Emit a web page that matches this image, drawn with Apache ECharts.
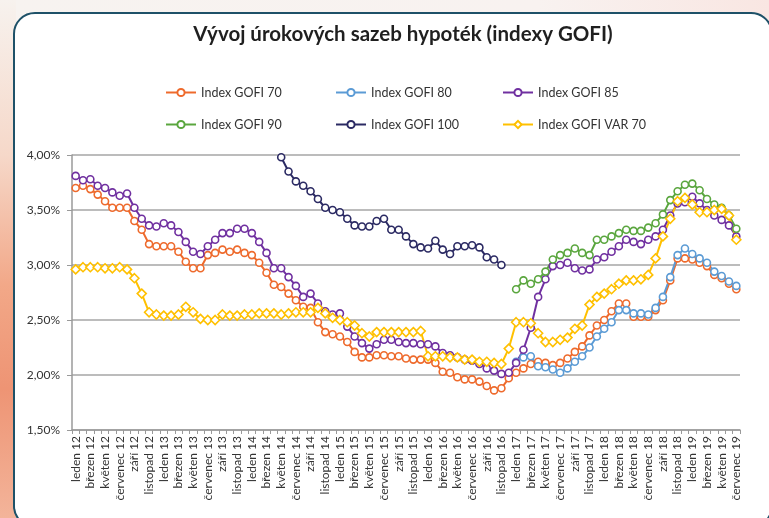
<!DOCTYPE html>
<html>
<head>
<meta charset="utf-8">
<title>Vývoj úrokových sazeb hypoték</title>
<script src="https://cdn.jsdelivr.net/npm/echarts@6/dist/echarts.min.js"></script>
<style>
  html, body { margin: 0; padding: 0; }
  body {
    width: 769px; height: 518px; overflow: hidden; position: relative;
    background: linear-gradient(90deg, #f7f3f0 0%, #f8f2f0 70%, #f9e6e2 100%);
  }
  .leftStrip {
    position: absolute; left: 0; top: 0; width: 16px; height: 518px;
    background: linear-gradient(180deg, #f7f2ee 0%, #f6d8c9 30%, #f2a888 55%, #ee9474 75%, #f3b49a 100%);
  }
  .frame {
    position: absolute; left: 13px; top: 12px; width: 756px; height: 512px;
    border: 2px solid #1e5168; border-radius: 22px; background: #fff;
  }
  #container { position: absolute; left: 0; top: 0; width: 769px; height: 518px; }
</style>
</head>
<body>
<div class="leftStrip"></div>
<div class="frame"></div>
<div id="container"></div>
<script>
// mesice a roky pro popisky osy x
const months = ['leden', 'únor', 'březen', 'duben', 'květen', 'červen', 'červenec', 'srpen', 'září', 'říjen', 'listopad', 'prosinec'];
const years = ['12', '13', '14', '15', '16', '17', '18', '19'];
const lastMonthCount = 7; // 2019: leden - červenec

const yTicks = [1.5, 2.0, 2.5, 3.0, 3.5, 4.0];

// Index GOFI 70 (leden 12 - červenec 19)
const gofi70 = [
  3.70, 3.72, 3.69, 3.64, 3.58, 3.52, 3.52, 3.52, 3.40, 3.32, 3.19, 3.17,
  3.17, 3.17, 3.12, 3.03, 2.97, 2.97, 3.09, 3.11, 3.14, 3.12, 3.14, 3.11,
  3.09, 3.02, 2.93, 2.82, 2.80, 2.74, 2.68, 2.62, 2.61, 2.48, 2.39, 2.37,
  2.35, 2.30, 2.21, 2.16, 2.16, 2.18, 2.18, 2.17, 2.17, 2.15, 2.14, 2.14,
  2.14, 2.11, 2.03, 2.02, 1.98, 1.96, 1.96, 1.94, 1.90, 1.86, 1.88, 1.97,
  2.02, 2.06, 2.10, 2.12, 2.11, 2.09, 2.11, 2.15, 2.21, 2.26, 2.36, 2.45,
  2.50, 2.58, 2.65, 2.65, 2.53, 2.53, 2.53, 2.59, 2.68, 2.86, 3.06, 3.06,
  3.05, 3.02, 2.99, 2.91, 2.88, 2.83, 2.78
];

// Index GOFI 80 (od leden 17)
const gofi80 = [
  null, null, null, null, null, null, null, null, null, null, null, null,
  null, null, null, null, null, null, null, null, null, null, null, null,
  null, null, null, null, null, null, null, null, null, null, null, null,
  null, null, null, null, null, null, null, null, null, null, null, null,
  null, null, null, null, null, null, null, null, null, null, null, null,
  2.12, 2.16, 2.17, 2.08, 2.07, 2.05, 2.02, 2.06, 2.12, 2.17, 2.25, 2.35,
  2.42, 2.48, 2.59, 2.59, 2.56, 2.56, 2.55, 2.61, 2.71, 2.89, 3.09, 3.15,
  3.10, 3.06, 3.02, 2.94, 2.90, 2.85, 2.81
];

// Index GOFI 85
const gofi85 = [
  3.81, 3.77, 3.78, 3.72, 3.70, 3.66, 3.63, 3.65, 3.52, 3.42, 3.36, 3.35,
  3.38, 3.36, 3.30, 3.21, 3.12, 3.10, 3.17, 3.23, 3.29, 3.29, 3.33, 3.33,
  3.29, 3.21, 3.11, 2.97, 2.97, 2.89, 2.81, 2.71, 2.74, 2.65, 2.58, 2.55,
  2.56, 2.44, 2.35, 2.29, 2.24, 2.28, 2.32, 2.32, 2.30, 2.29, 2.29, 2.28,
  2.28, 2.26, 2.20, 2.18, 2.16, 2.14, 2.13, 2.10, 2.06, 2.04, 2.01, 2.02,
  2.11, 2.23, 2.43, 2.71, 2.87, 2.99, 3.00, 3.02, 2.97, 2.95, 2.96, 3.05,
  3.07, 3.12, 3.17, 3.23, 3.21, 3.19, 3.23, 3.26, 3.32, 3.45, 3.56, 3.57,
  3.62, 3.56, 3.50, 3.45, 3.41, 3.36, 3.26
];

// Index GOFI 90 (od leden 17)
const gofi90 = [
  null, null, null, null, null, null, null, null, null, null, null, null,
  null, null, null, null, null, null, null, null, null, null, null, null,
  null, null, null, null, null, null, null, null, null, null, null, null,
  null, null, null, null, null, null, null, null, null, null, null, null,
  null, null, null, null, null, null, null, null, null, null, null, null,
  2.78, 2.86, 2.83, 2.87, 2.94, 3.05, 3.09, 3.11, 3.15, 3.11, 3.09, 3.23,
  3.23, 3.26, 3.29, 3.32, 3.31, 3.31, 3.34, 3.38, 3.46, 3.59, 3.67, 3.73,
  3.74, 3.68, 3.60, 3.55, 3.52, 3.45, 3.33
];

// Index GOFI 100 (květen 14 - listopad 16)
const gofi100 = [
  null, null, null, null, null, null, null, null, null, null, null, null,
  null, null, null, null, null, null, null, null, null, null, null, null,
  null, null, null, null, 3.98, 3.85, 3.76, 3.72, 3.67, 3.60, 3.52, 3.50,
  3.48, 3.42, 3.36, 3.35, 3.35, 3.40, 3.42, 3.32, 3.32, 3.26, 3.19, 3.16,
  3.15, 3.22, 3.14, 3.10, 3.17, 3.17, 3.18, 3.16, 3.07, 3.05, 3.00, null,
  null, null, null, null, null, null, null, null, null, null, null, null,
  null, null, null, null, null, null, null, null, null, null, null, null,
  null, null, null, null, null, null, null
];

// Index GOFI VAR 70
const gofiVar70 = [
  2.96, 2.98, 2.98, 2.98, 2.97, 2.97, 2.98, 2.96, 2.88, 2.74, 2.57, 2.55,
  2.54, 2.54, 2.55, 2.62, 2.57, 2.51, 2.50, 2.50, 2.55, 2.54, 2.54, 2.55,
  2.55, 2.56, 2.56, 2.56, 2.55, 2.56, 2.57, 2.57, 2.57, 2.61, 2.56, 2.52,
  2.50, 2.48, 2.45, 2.38, 2.35, 2.39, 2.39, 2.39, 2.39, 2.39, 2.39, 2.40,
  2.17, 2.17, 2.17, 2.16, 2.16, 2.14, 2.14, 2.12, 2.12, 2.11, 2.10, 2.24,
  2.48, 2.48, 2.47, 2.38, 2.30, 2.30, 2.32, 2.34, 2.42, 2.45, 2.64, 2.71,
  2.74, 2.78, 2.83, 2.86, 2.86, 2.87, 2.91, 3.06, 3.26, 3.42, 3.58, 3.61,
  3.55, 3.48, 3.48, 3.50, 3.51, 3.45, 3.23
];

const seriesNames = ['Index GOFI 70', 'Index GOFI 80', 'Index GOFI 85', 'Index GOFI 90', 'Index GOFI 100', 'Index GOFI VAR 70'];
const seriesColors = ['#ee6a2c', '#5b9bd5', '#7030a0', '#5aa63e', '#2b2a63', '#ffc000'];
const seriesSymbols = ['circle', 'circle', 'circle', 'circle', 'circle', 'diamond'];
const seriesData = [gofi70, gofi80, gofi85, gofi90, gofi100, gofiVar70];

const categories = [];
years.forEach((y, yi) => {
  const n = yi === years.length - 1 ? lastMonthCount : months.length;
  for (let m = 0; m < n; m++) categories.push(months[m] + ' ' + y);
});

const font = 'Lato, "Noto Sans", sans-serif';
const legendLeft = [160, 330, 497];
const legendTop = [81, 113];

const myChart = echarts.init(document.getElementById('container'), null, { renderer: 'canvas' });

const option = {
  backgroundColor: 'transparent',
  animation: false,
  textStyle: { fontFamily: font },
  title: {
    text: 'Vývoj úrokových sazeb hypoték (indexy GOFI)',
    left: 398,
    top: 19,
    textAlign: 'center',
    textStyle: { fontFamily: font, fontSize: 20.5, fontWeight: 'bold', color: '#1f1f1f' }
  },
  legend: seriesNames.map((name, i) => ({
    data: [name],
    left: legendLeft[i % 3],
    top: legendTop[Math.floor(i / 3)],
    itemWidth: 30,
    itemHeight: 9,
    itemGap: 4,
    textStyle: { fontFamily: font, fontSize: 12.5, color: '#333' }
  })),
  grid: { left: 72, right: 29, top: 155, bottom: 88 },
  xAxis: {
    type: 'category',
    data: categories,
    boundaryGap: true,
    axisLine: { lineStyle: { color: '#9a9a9a', width: 1.5 } },
    axisTick: { show: true, interval: 0, length: 4, lineStyle: { color: '#9a9a9a' } },
    axisLabel: {
      interval: 1,
      rotate: 90,
      fontFamily: font,
      fontSize: 12,
      color: '#333',
      margin: 6
    }
  },
  yAxis: {
    type: 'value',
    min: yTicks[0],
    max: yTicks[yTicks.length - 1],
    interval: 0.5,
    axisLine: { show: true, lineStyle: { color: '#9a9a9a', width: 1.5 } },
    axisTick: { show: true, length: 5, lineStyle: { color: '#9a9a9a' } },
    splitLine: { lineStyle: { color: '#a6a6a6', width: 1.5 } },
    axisLabel: {
      fontFamily: font,
      fontSize: 12,
      color: '#333',
      margin: 12,
      formatter: v => v.toFixed(2).replace('.', ',') + '%'
    }
  },
  series: seriesNames.map((name, i) => ({
    name: name,
    type: 'line',
    data: seriesData[i],
    connectNulls: false,
    symbol: seriesSymbols[i],
    symbolSize: i === 5 ? 9 : 7,
    showAllSymbol: true,
    lineStyle: { color: seriesColors[i], width: 2 },
    itemStyle: { color: '#fff', borderColor: seriesColors[i], borderWidth: 1.6 },
    emphasis: { disabled: true }
  }))
};

myChart.setOption(option);
</script>
</body>
</html>
